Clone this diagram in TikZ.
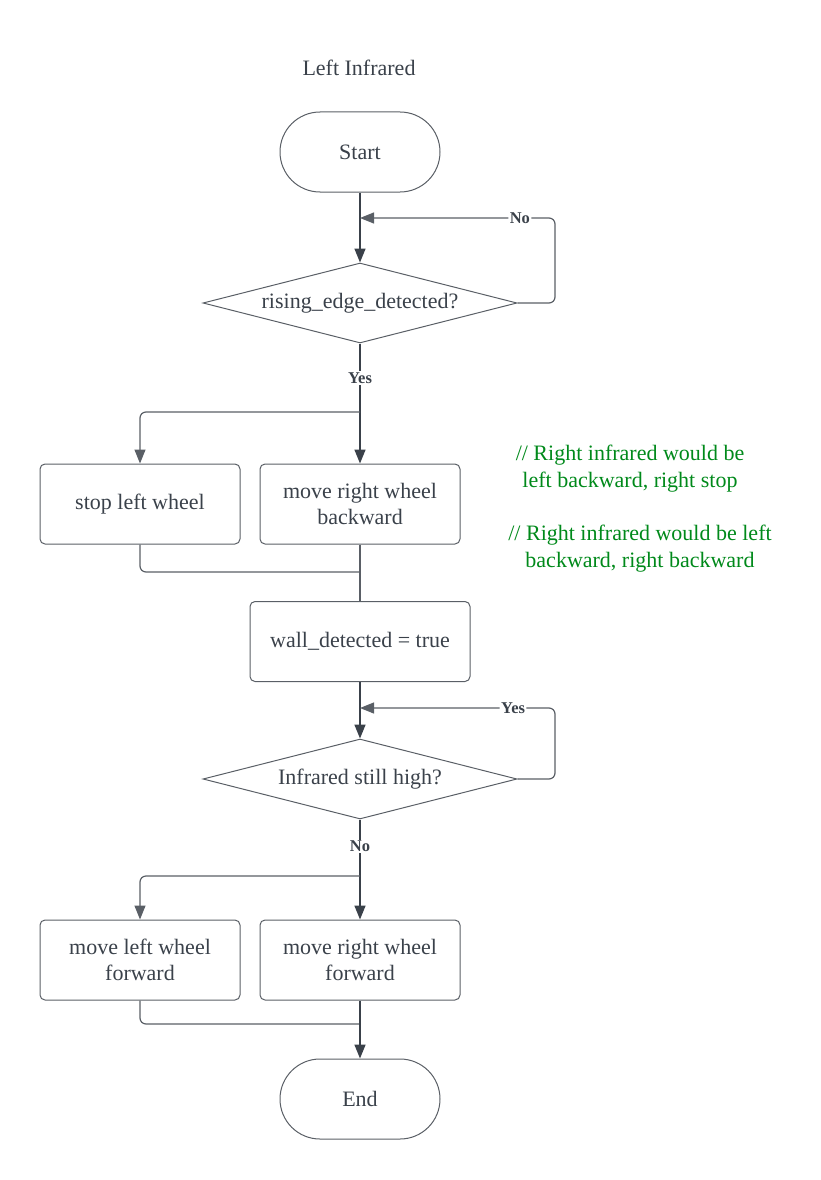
\documentclass[tikz,border=0pt]{standalone}
\usepackage{fontspec}
\setmainfont{Liberation Serif}
\usetikzlibrary{shapes.geometric,arrows.meta}
\definecolor{ink}{HTML}{3A414A}
\definecolor{edge}{HTML}{5A5F66}
\definecolor{note}{HTML}{00891A}
\begin{document}
\begin{tikzpicture}[x=1pt,y=-1pt,
  font=\fontsize{22}{26.5}\selectfont, text=ink,
  term/.style={draw=edge, line width=1pt, rounded corners=40pt, minimum width=160pt, minimum height=80pt, inner sep=0pt},
  proc/.style={draw=edge, line width=1pt, rounded corners=5pt, minimum height=80pt, inner sep=0pt, align=center},
  dec/.style={diamond, draw=edge, line width=1pt, aspect=3.9, minimum width=314pt, minimum height=80pt, inner sep=0pt},
  tipA/.style={-{Triangle[length=14pt,width=11pt]}},
  spine/.style={draw=ink, line width=1.6pt},
  side/.style={draw=edge, line width=1.2pt, rounded corners=6pt},
  lab/.style={font=\fontsize{16.5}{18}\selectfont\bfseries, fill=white, inner sep=1.5pt, text=ink},
  notetext/.style={text=note, align=center, font=\fontsize{22}{27}\selectfont}]
\useasboundingbox (0,0) rectangle (820,1180);

\node (title) at (359,68) {Left Infrared};
\node[term] (start) at (360,152) {Start};
\node[dec] (d1) at (360,303) {rising\_edge\_detected?};
\node[proc, minimum width=200pt] (stopl) at (140,504) {stop left wheel};
\node[proc, minimum width=200pt] (mrb) at (360,504) {move right wheel\\backward};
\node[proc, minimum width=220pt] (wall) at (360,641.5) {wall\_detected = true};
\node[dec] (d2) at (360,779) {Infrared still high?};
\node[proc, minimum width=200pt] (mlf) at (140,960) {move left wheel\\forward};
\node[proc, minimum width=200pt] (mrf) at (360,960) {move right wheel\\forward};
\node[term] (end) at (360,1099) {End};

\node[notetext] (n1) at (630,468.5) {// Right infrared would be\\left backward, right stop};
\node[notetext] (n2) at (640,548.5) {// Right infrared would be left\\backward, right backward};

\coordinate (j1) at (360,218);
\coordinate (b1) at (360,412);
\coordinate (m1) at (360,572);
\coordinate (j2) at (360,708);
\coordinate (b2) at (360,876);
\coordinate (m2) at (360,1024);

% start -> decision 1
\draw[spine, tipA] (start.south) -- (d1.north);
% No loop
\draw[side, tipA] (d1.east) -- (555,303) -- (555,218) -- node[lab, pos=0.18] {No} (j1);
% Yes
\draw[spine, tipA] (d1.south) -- node[lab, pos=0.29] {Yes} (mrb.north);
\draw[side, tipA] (b1) -| (stopl.north);
% merge
\draw[side] (stopl.south) |- (m1);
\draw[side] (mrb.south) -- (wall.north);
% wall -> decision 2
\draw[spine, tipA] (wall.south) -- (d2.north);
% Yes loop
\draw[side, tipA] (d2.east) -- (555,779) -- (555,708) -- node[lab, pos=0.215] {Yes} (j2);
% No
\draw[spine, tipA] (d2.south) -- node[lab, pos=0.27] {No} (mrf.north);
\draw[side, tipA] (b2) -| (mlf.north);
% merge -> end
\draw[side] (mlf.south) |- (m2);
\draw[spine, tipA] (mrf.south) -- (end.north);
\end{tikzpicture}
\end{document}
